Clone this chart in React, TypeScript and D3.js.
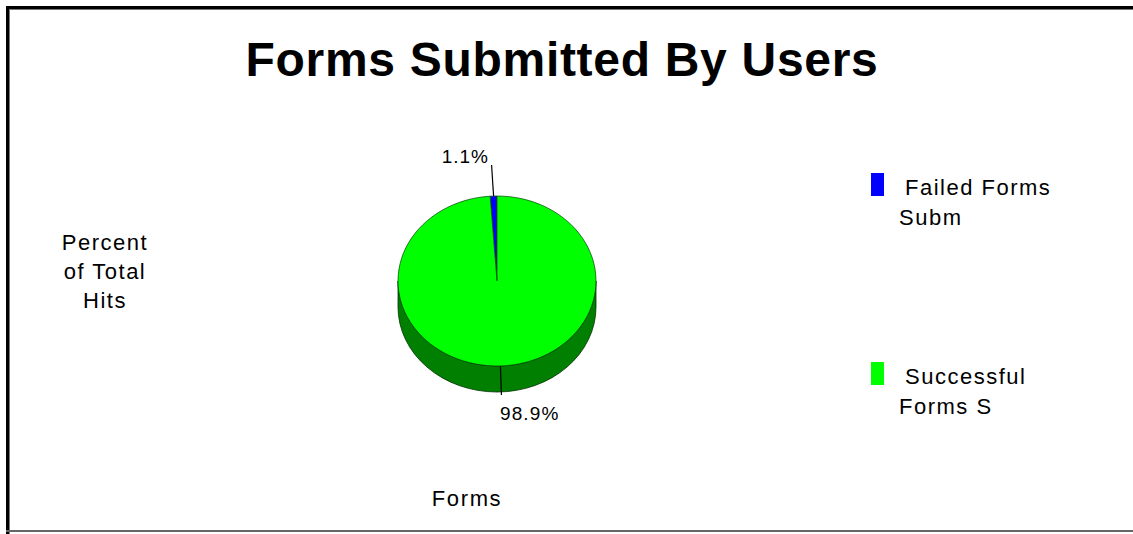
import React from "react";
import * as d3 from "d3";

const title = "Forms Submitted By Users";
const categories = ["Failed Forms Subm", "Successful Forms S"];
const legendLines = [["Failed Forms", "Subm"], ["Successful", "Forms S"]];
const values = [1.1, 98.9];
const valueLabels = ["1.1%", "98.9%"];
const colors = ["#0000FF", "#00FF00"];
const sideColors = ["#00007F", "#007F00"];
const yLabel = ["Percent", "of Total", "Hits"];
const xLabel = "Forms";

const W = 1133, H = 534;
const FONT = "'Liberation Sans', Arial, sans-serif";

export default function App() {
  const cx = 497, cy = 281, rx = 99, ry = 85, depth = 26;
  const total = d3.sum(values);
  const a0 = -(values[0] / total) * 2 * Math.PI;
  const pie = d3.pie<number>().sort(null).startAngle(a0).endAngle(a0 + 2 * Math.PI);
  const arcs = pie(values);
  const arc = d3.arc<d3.PieArcDatum<number>>().innerRadius(0).outerRadius(rx);
  const k = ry / rx;
  const side = `M${cx + rx},${cy} A${rx},${ry} 0 0 1 ${cx - rx},${cy} L${cx - rx},${cy + depth} A${rx},${ry} 0 0 0 ${cx + rx},${cy + depth} Z`;

  const labelPos = arcs.map((a) => {
    const m = (a.startAngle + a.endAngle) / 2;
    const x = cx + rx * Math.sin(m);
    const y = cy - ry * Math.cos(m);
    return { x, y, m };
  });

  return (
    <svg width={W} height={H} style={{ position: "absolute", left: 0, top: 0 }} fontFamily={FONT}>
      <rect x={0} y={0} width={W} height={H} fill="#fff" />
      {/* frame */}
      <rect x={6} y={6} width={W} height={4} fill="#000" />
      <rect x={6} y={9} width={W} height={1} fill="#777" />
      <rect x={6} y={6} width={4} height={H} fill="#000" />
      <rect x={9} y={9} width={1} height={H} fill="#777" />
      <rect x={6} y={530} width={W} height={2} fill="#666" />

      <text x={562} y={76} textAnchor="middle" fontSize={48} fontWeight="bold" letterSpacing={0.7} fill="#000">{title}</text>

      {yLabel.map((t, i) => (
        <text key={t} x={105} y={250 + i * 29} textAnchor="middle" fontSize={22} letterSpacing={1.5} fill="#000">{t}</text>
      ))}
      <text x={467} y={506} textAnchor="middle" fontSize={22} letterSpacing={1.6} fill="#000">{xLabel}</text>

      {/* pie side */}
      <path d={side} fill={sideColors[1]} stroke="#003000" strokeWidth={0.8} />
      {/* pie top */}
      <g transform={`translate(${cx},${cy}) scale(1,${k})`}>
        {arcs.map((a, i) => (
          <path key={i} d={arc(a) || ""} fill={colors[i]} stroke="#004000" strokeWidth={0.7} vectorEffect="non-scaling-stroke" />
        ))}
      </g>

      {/* labels */}
      <line x1={labelPos[0].x} y1={labelPos[0].y} x2={labelPos[0].x - 2} y2={165} stroke="#000" strokeWidth={1.2} />
      <text x={489} y={163} textAnchor="end" fontSize={19} letterSpacing={1} fill="#000">{valueLabels[0]}</text>
      <line x1={labelPos[1].x} y1={labelPos[1].y} x2={labelPos[1].x + 1} y2={395} stroke="#000" strokeWidth={1.2} />
      <text x={500} y={420} textAnchor="start" fontSize={19} letterSpacing={1.1} fill="#000">{valueLabels[1]}</text>

      {/* legend */}
      {categories.map((c, i) => (
        <g key={c}>
          <rect x={871} y={173 + i * 189} width={13} height={23} fill={colors[i]} />
          <text x={905} y={195 + i * 189} fontSize={22} letterSpacing={1.5} fill="#000">{legendLines[i][0]}</text>
          <text x={899} y={225 + i * 189} fontSize={22} letterSpacing={1.5} fill="#000">{legendLines[i][1]}</text>
        </g>
      ))}
    </svg>
  );
}
